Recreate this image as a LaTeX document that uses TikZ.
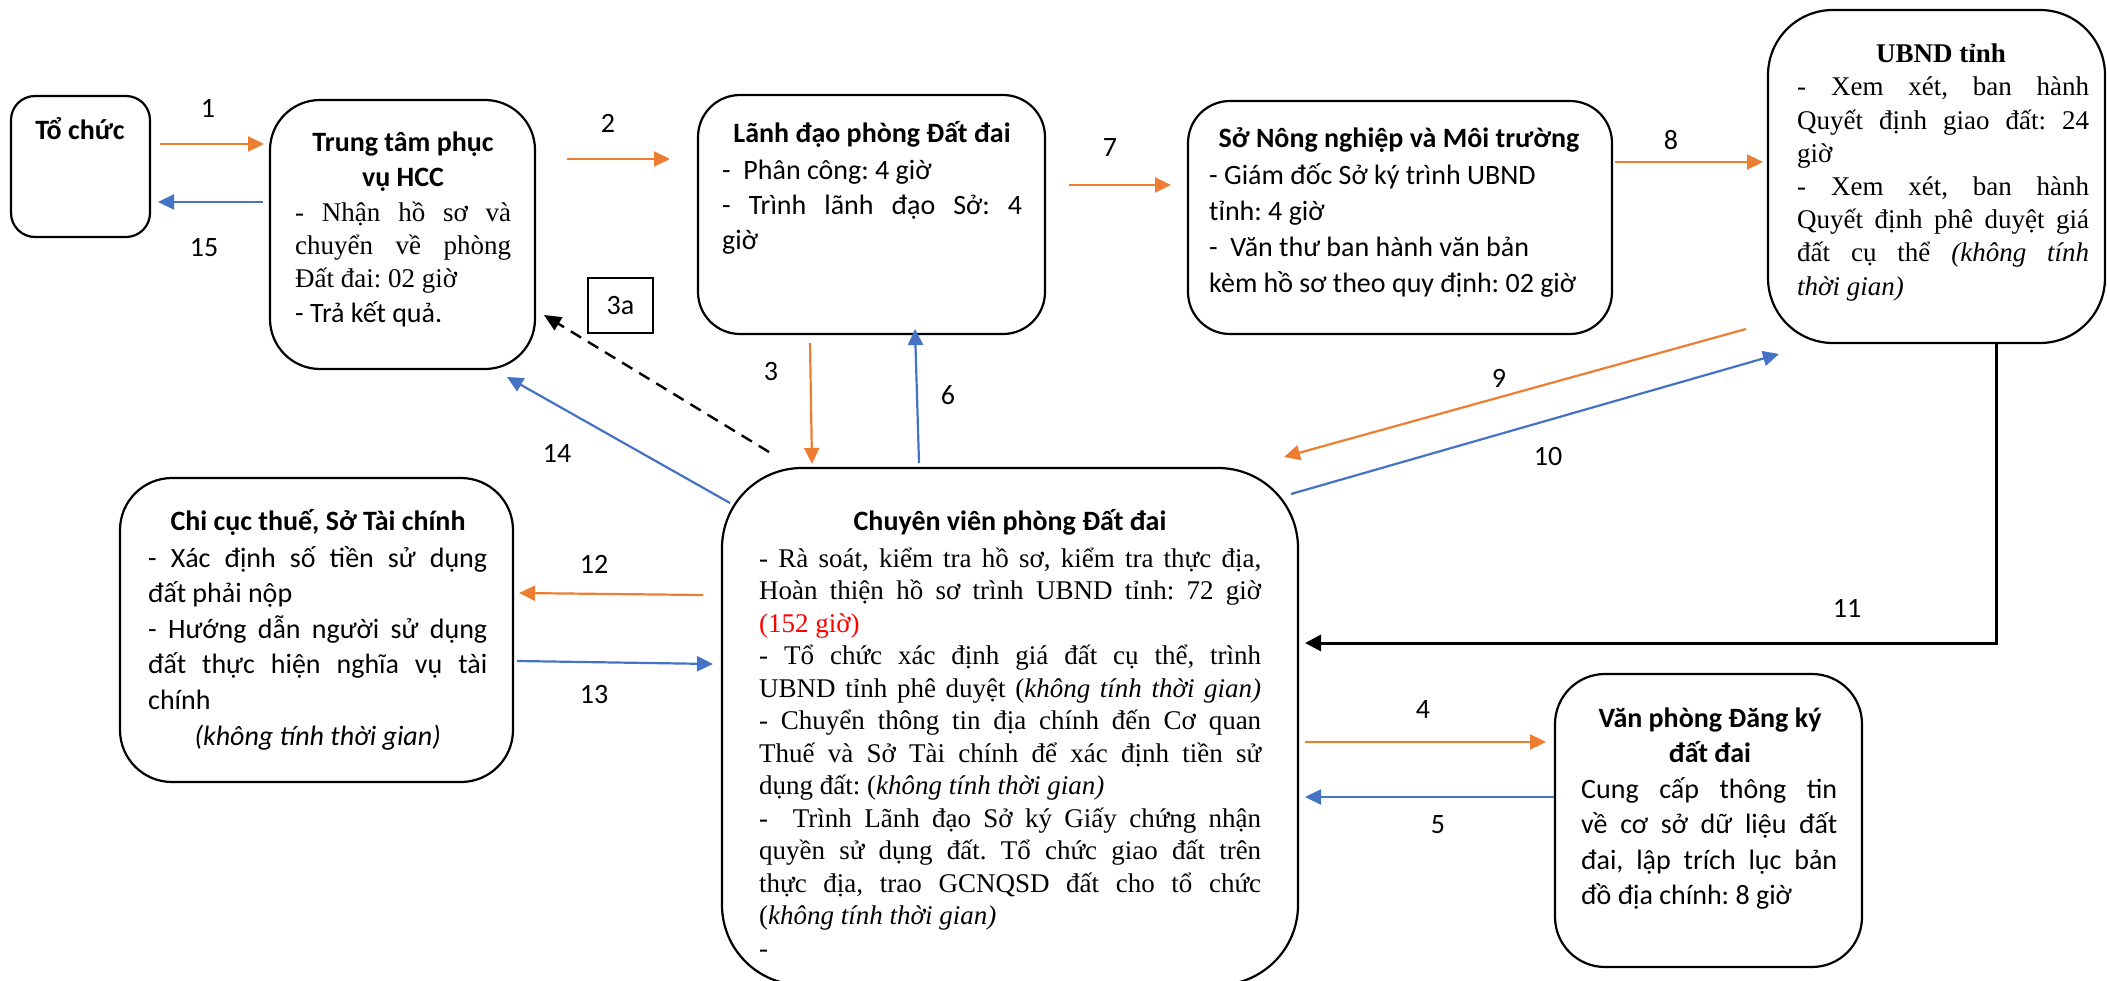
\documentclass[tikz,border=0pt]{standalone}
\usepackage{fontspec}
\setmainfont{Liberation Serif}
\newfontfamily\calibri{Carlito}
\usetikzlibrary{arrows.meta}
\definecolor{orangeC}{HTML}{ED7D31}
\definecolor{blueC}{HTML}{4472C4}
\frenchspacing
\newcommand{\JL}[1]{\makebox[\linewidth][s]{#1}}
\newcommand{\fCal}[1][36]{\calibri\fontsize{28}{#1}\selectfont\frenchspacing\lineskiplimit=-50pt\lineskip=0pt}
\newcommand{\fTim}[1][33]{\rmfamily\fontsize{27}{#1}\selectfont\frenchspacing\lineskiplimit=-50pt\lineskip=0pt}
\begin{document}
\begin{tikzpicture}[x=1pt,y=-1pt,
  box/.style={draw=black, line width=2.2pt, rounded corners=#1, inner sep=0pt},
  txt/.style={inner sep=0pt, anchor=base west},
  ttl/.style={inner sep=0pt, anchor=base},
  lbl/.style={inner sep=0pt, font=\fCal},
  oarr/.style={draw=orangeC, line width=2.2pt, -{Triangle[length=16pt,width=15pt]}},
  barr/.style={draw=blueC, line width=2.2pt, -{Triangle[length=16pt,width=15pt]}},
  karr/.style={draw=black, line width=3pt, -{Triangle[length=16pt,width=16pt]}},
  darr/.style={draw=black, line width=2.4pt, dash pattern=on 12pt off 8pt, -{Triangle[length=17pt,width=15pt]}}
]
\useasboundingbox (0,0) rectangle (2107,981);

% ---------- boxes ----------
\node[box=24pt, minimum width=139pt, minimum height=141pt] (toChuc) at (80.5,166.5) {};
\node[box=50pt, minimum width=265pt, minimum height=269pt] (ttHCC) at (402.5,234.5) {};
\node[box=42pt, minimum width=347pt, minimum height=239pt] (ldPhong) at (871.5,214.5) {};
\node[box=42pt, minimum width=424pt, minimum height=233pt] (soNN) at (1400,217.5) {};
\node[box=65pt, minimum width=337pt, minimum height=333pt] (ubnd) at (1936.5,176.5) {};
\node[box=52pt, minimum width=393pt, minimum height=304pt] (chiCuc) at (316.5,630) {};
\node[box=80pt, minimum width=576pt, minimum height=517pt] (cvPhong) at (1010,726.5) {};
\node[box=50pt, minimum width=307pt, minimum height=293pt] (vpDK) at (1708.5,820.5) {};
\node[draw=black, line width=2pt, minimum width=65pt, minimum height=55pt, inner sep=0pt, font=\fCal] (box3a) at (620.5,305.5) {3a};

% ---------- texts ----------
\node[ttl] (tToChuc) at (80,140) {\fCal\bfseries Tổ chức};

\node[ttl] (tTT) at (403,152) {\parbox[t]{300pt}{\centering\fCal[35]\bfseries Trung tâm phục\\vụ HCC}};
\node[txt] (bTT) at (295,222) {\parbox[t]{216pt}{\fTim[33]%
\JL{- Nhận hồ sơ và}\\
\JL{chuyển về phòng}\\
Đất đai: 02 giờ}};
\node[txt] (bTT2) at (295,323) {\fCal - Trả kết quả.};

\node[ttl] (tLD) at (872,143) {\fCal\bfseries Lãnh đạo phòng Đất đai};
\node[txt] (bLD) at (722,180) {\parbox[t]{300pt}{\fCal[35]%
-\ \ Phân công: 4 giờ\\
\JL{- Trình lãnh đạo Sở: 4}\\
giờ}};

\node[ttl] (tSo) at (1399,148) {\fCal\bfseries Sở Nông nghiệp và Môi trường};
\node[txt] (bSo) at (1209,185) {\parbox[t]{390pt}{\fCal[36]%
- Giám đốc Sở ký trình UBND\\
tỉnh: 4 giờ\\
-\ \ Văn thư ban hành văn bản\\
kèm hồ sơ theo quy định: 02 giờ}};

\node[ttl] (tUB) at (1941,63) {\fTim\bfseries UBND tỉnh};
\node[txt] (bUB) at (1797,96) {\parbox[t]{292pt}{\fTim[33.2]%
\JL{- Xem xét, ban hành}\\
\JL{Quyết định giao đất: 24}\\
giờ\\
\JL{- Xem xét, ban hành}\\
\JL{Quyết định phê duyệt giá}\\
\JL{đất cụ thể \textit{(không tính}}\\
\textit{thời gian)}}};

\node[ttl] (tCC) at (318,530) {\fCal\bfseries Chi cục thuế, Sở Tài chính};
\node[txt] (bCC) at (148,567) {\parbox[t]{339pt}{\fCal[35.6]%
\JL{- Xác định số tiền sử dụng}\\
đất phải nộp\\
\JL{- Hướng dẫn người sử dụng}\\
\JL{đất thực hiện nghĩa vụ tài}\\
chính\\
\makebox[\linewidth][c]{\itshape (không tính thời gian)}}};

\node[ttl] (tCV) at (1010,530) {\fCal\bfseries Chuyên viên phòng Đất đai};
\node[txt] (bCV) at (759,567) {\parbox[t]{502pt}{\fTim[32.5]%
\JL{- Rà soát, kiểm tra hồ sơ, kiểm tra thực địa,}\\
\JL{Hoàn thiện hồ sơ trình UBND tỉnh: 72 giờ}\\
\textcolor{red}{(152 giờ)}\\
\JL{- Tổ chức xác định giá đất cụ thể, trình}\\
\JL{UBND tỉnh phê duyệt (\textit{không tính thời gian)}}\\
\JL{- Chuyển thông tin địa chính đến Cơ quan}\\
\JL{Thuế và Sở Tài chính để xác định tiền sử}\\
dụng đất: (\textit{không tính thời gian)}\\
\JL{-\ \ Trình Lãnh đạo Sở ký Giấy chứng nhận}\\
\JL{quyền sử dụng đất. Tổ chức giao đất trên}\\
\JL{thực địa, trao GCNQSD đất cho tổ chức}\\
(\textit{không tính thời gian)}\\
-}};

\node[ttl] (tVP) at (1710,727) {\parbox[t]{300pt}{\centering\fCal[35]\bfseries Văn phòng Đăng ký\\đất đai}};
\node[txt] (bVP) at (1581,798) {\parbox[t]{256pt}{\fCal[35.6]%
\JL{Cung cấp thông tin}\\
\JL{về cơ sở dữ liệu đất}\\
\JL{đai, lập trích lục bản}\\
đồ địa chính: 8 giờ}};

% ---------- connector end points ----------
\coordinate (a1s) at (160,144);  \coordinate (a1e) at (264,144);
\coordinate (a15s) at (263,202); \coordinate (a15e) at (158,202);
\coordinate (a2s) at (567,159);  \coordinate (a2e) at (670,159);
\coordinate (a7s) at (1069,185); \coordinate (a7e) at (1171,185);
\coordinate (a8s) at (1615,162); \coordinate (a8e) at (1763,162);
\coordinate (a3s) at (810,343);  \coordinate (a3e) at (812,464);
\coordinate (a6s) at (919,463);  \coordinate (a6e) at (915,329);
\coordinate (a3as) at (769,452); \coordinate (a3ae) at (544,315);
\coordinate (a14s) at (730,503); \coordinate (a14e) at (507,377);
\coordinate (a9s) at (1746,329); \coordinate (a9e) at (1284,457);
\coordinate (a10s) at (1291,494); \coordinate (a10e) at (1779,354);
\coordinate (a11s) at (1996,343); \coordinate (a11e) at (1305,643);
\coordinate (a12s) at (703,595); \coordinate (a12e) at (519,593);
\coordinate (a13s) at (517,661); \coordinate (a13e) at (713,664);
\coordinate (a4s) at (1305,742); \coordinate (a4e) at (1546,742);
\coordinate (a5s) at (1554,797); \coordinate (a5e) at (1305,797);

% ---------- connectors ----------
\draw[oarr] (a1s) -- (a1e);
\draw[barr] (a15s) -- (a15e);
\draw[oarr] (a2s) -- (a2e);
\draw[oarr] (a7s) -- (a7e);
\draw[oarr] (a8s) -- (a8e);
\draw[oarr] (a3s) -- (a3e);
\draw[barr] (a6s) -- (a6e);
\draw[darr] (a3as) -- (a3ae);
\draw[barr] (a14s) -- (a14e);
\draw[oarr] (a9s) -- (a9e);
\draw[barr] (a10s) -- (a10e);
\draw[karr] (a11s) |- (a11e);
\draw[oarr] (a12s) -- (a12e);
\draw[barr] (a13s) -- (a13e);
\draw[oarr] (a4s) -- (a4e);
\draw[barr] (a5s) -- (a5e);

% ---------- labels ----------
\node[lbl] (l1) at (208,108) {1};
\node[lbl] (l15) at (204,248) {15};
\node[lbl] (l2) at (608,123) {2};
\node[lbl] (l7) at (1110,148) {7};
\node[lbl] (l8) at (1671,140) {8};
\node[lbl] (l3) at (771,372) {3};
\node[lbl] (l6) at (948,395) {6};
\node[lbl] (l14) at (557,453) {14};
\node[lbl] (l9) at (1499,378) {9};
\node[lbl] (l10) at (1548,457) {10};
\node[lbl] (l11) at (1847,608) {11};
\node[lbl] (l12) at (594,564) {12};
\node[lbl] (l13) at (594,695) {13};
\node[lbl] (l4) at (1423,710) {4};
\node[lbl] (l5) at (1438,825) {5};
\end{tikzpicture}
\end{document}
